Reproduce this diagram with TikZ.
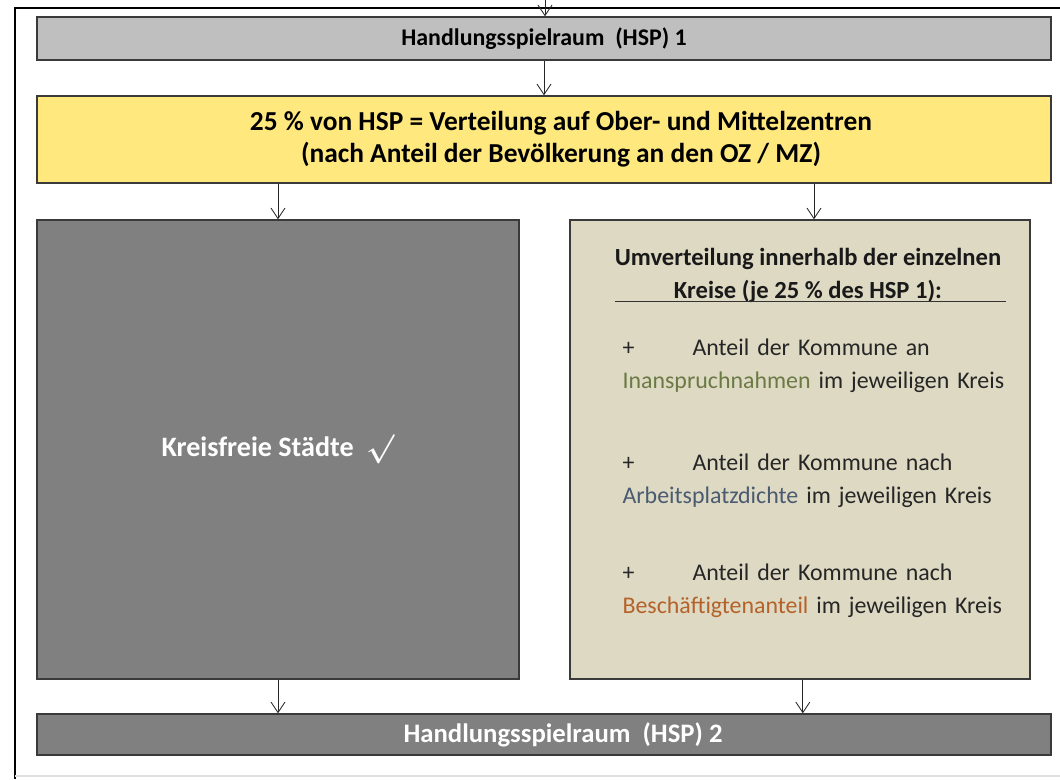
\documentclass[tikz,border=0pt]{standalone}
\usepackage{amsmath, amssymb}
\usepackage{fontspec}
\setmainfont{Carlito}
\usepackage{tikz}
\usetikzlibrary{arrows.meta, positioning, calc}
\usepackage{xcolor}
\definecolor{hspgrey}{HTML}{BFBFBF}
\definecolor{hspdark}{HTML}{808080}
\definecolor{ozyellow}{HTML}{FFE97F}
\definecolor{kreisbeige}{HTML}{DDD9C3}
\definecolor{boxline}{HTML}{3A3A3A}
\definecolor{inancol}{HTML}{6B7A45}
\definecolor{arbcol}{HTML}{4A5A70}
\definecolor{beschcol}{HTML}{B5622A}
\newcommand{\boxfont}{\fontsize{17}{23.5}\selectfont}
\newcommand{\bigboxfont}{\fontsize{19.5}{22.7}\selectfont}
\tikzset{
  flowarr/.style = {-{Straight Barb[length=7.5pt, width=10pt]}, line width=0.6pt, draw=black!85},
  %% Box presets
  gbox/.style = {draw=boxline, fill=hspgrey,    line width=1pt, align=center, inner sep=0pt, font=\boxfont\bfseries},
  ybox/.style = {draw=boxline, fill=ozyellow,   line width=1pt, align=center, inner sep=0pt, font=\bigboxfont\bfseries},
  dbox/.style = {draw=boxline, fill=hspdark,    line width=1pt, align=center, inner sep=0pt, font=\boxfont\bfseries, text=white},
  bbox/.style = {draw=boxline, fill=kreisbeige, line width=1pt, inner sep=0pt},
  item/.style = {font=\boxfont, text width=9.7cm, align=left, inner sep=0pt, text=black!85},
}

\begin{document}
\begin{tikzpicture}[line width=0.8pt]

\useasboundingbox (0,0) rectangle (26.5,-19.475);

%% ---- Outer frame ----
\draw[line width=2pt, black] (0.375,-19.475) -- (0.375,-0.2) -- (26.5,-0.2);
\draw[line width=1pt, black!12] (0.375,-19.4) -- (26.5,-19.4);

%% ---- (1) HSP 1 ----
\node[gbox, minimum width=25.35cm, minimum height=1.075cm] (hsp1) at (13.6,-0.9625)
  {Handlungsspielraum \ (HSP) 1};
\coordinate (top) at (13.625,0);
\draw[flowarr] (top) -- (hsp1.north -| top);

%% ---- (2) 25 % to Ober-/Mittelzentren ----
\node[ybox, minimum width=25.35cm, minimum height=2.175cm] (oz) at (13.6,-3.4875)
  {\hspace*{0.85cm}25 \% von HSP = Verteilung auf Ober- und Mittelzentren\\
   \hspace*{0.85cm}(nach Anteil der Bev\"olkerung an den OZ / MZ)};
\draw[flowarr] (hsp1) -- (oz);

%% ---- (3) Kreisfreie Staedte ----
\node[dbox, font=\fontsize{20}{24}\selectfont\bfseries,
      minimum width=12.05cm, minimum height=11.475cm] (kfs) at (6.95,-11.2375)
  {Kreisfreie St\"adte \ $\boldsymbol{\surd}$};

%% ---- (4) Umverteilung within Kreise ----
\node[bbox, minimum width=11.5cm, minimum height=11.475cm] (umv) at (20.0,-11.2375) {};

\node[font=\fontsize{17.5}{23.5}\selectfont\bfseries, align=center, inner sep=0pt, text=black!90,
      below=0.7cm of umv.north, xshift=0.2cm] (umvtitle)
  {Umverteilung innerhalb der einzelnen\\
   Kreise (je 25 \% des HSP 1):};
\draw[line width=1pt, black!80]
  ($(umvtitle.south west)+(0.02,0.03)$) -- ($(umvtitle.south east)+(0.1,0.03)$);

\node[item, anchor=north west] (inan) at (15.55,-8.45)
  {\makebox[1.75cm][l]{+}Anteil der Kommune an\\
   \textcolor{inancol}{Inanspruchnahmen} im jeweiligen Kreis};
\node[item, below=1.5cm of inan] (arb)
  {\makebox[1.75cm][l]{+}Anteil der Kommune nach\\
   \textcolor{arbcol}{Arbeitsplatzdichte} im jeweiligen Kreis};
\node[item, below=1.4cm of arb] (besch)
  {\makebox[1.75cm][l]{+}Anteil der Kommune nach\\
   \textcolor{beschcol}{Besch\"aftigtenanteil} im jeweiligen Kreis};

%% Arrows: OZ box -> both columns
\draw[flowarr] (kfs.north |- oz.south) -- (kfs.north);
\draw[flowarr] ([xshift=0.35cm]umv.north |- oz.south) -- ([xshift=0.35cm]umv.north);

%% ---- (5) HSP 2 ----
\node[dbox, font=\fontsize{19}{23}\selectfont\bfseries,
      minimum width=25.35cm, minimum height=1.025cm] (hsp2) at (13.6,-18.3625)
  {\hspace*{0.95cm}Handlungsspielraum \ (HSP) 2};
\draw[flowarr] (kfs.south) -- (kfs.south |- hsp2.north);
\draw[flowarr] ([xshift=0.07cm]umv.south) -- ([xshift=0.07cm]umv.south |- hsp2.north);

\end{tikzpicture}
\end{document}
